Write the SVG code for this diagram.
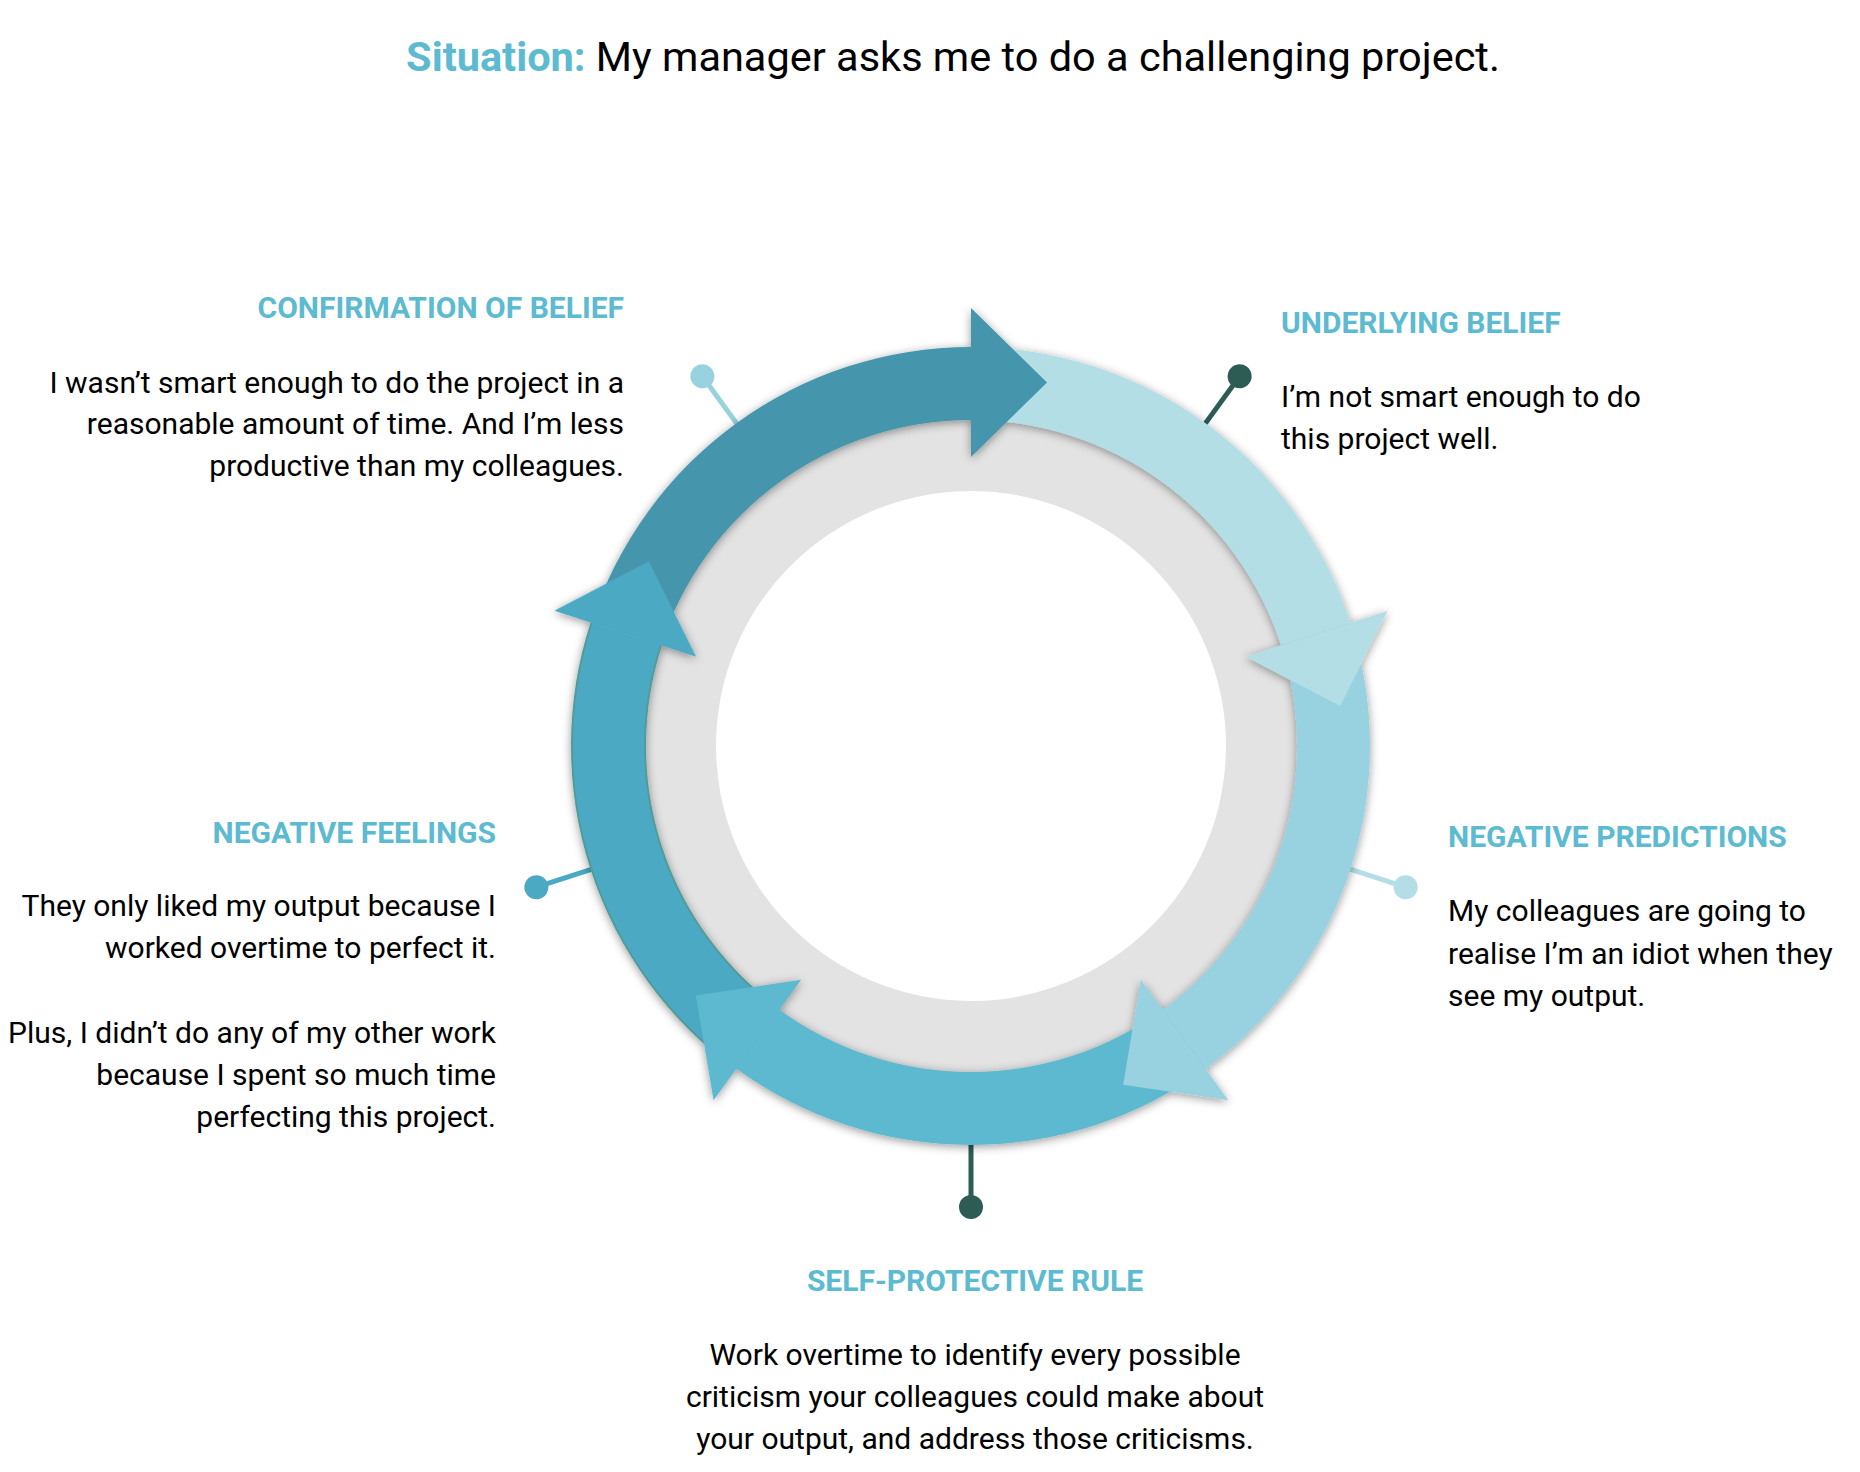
<svg xmlns="http://www.w3.org/2000/svg" xmlns:xlink="http://www.w3.org/1999/xlink" width="1860" height="1472" viewBox="0 0 1860 1472">
<style>
.hd{font-family:Roboto,"Liberation Sans",sans-serif;font-weight:700;font-size:30px;fill:#5CBAD1}
.bd{font-family:Roboto,"Liberation Sans",sans-serif;font-weight:400;font-size:30px;fill:#000}
.r{text-anchor:end}
.c{text-anchor:middle}
.pin line{stroke-width:5}
</style>
<defs>
<path id="band" d="M591.53,622.7 A399,399 0 0 1 971,347 L971,420 A326,326 0 0 0 660.95,645.26 Z"/>
<path id="head" d="M971,308 L1047,382.5 L971,457 Z"/>
<filter id="sh" x="-20%" y="-20%" width="140%" height="140%">
<feDropShadow dx="0" dy="2" stdDeviation="5" flood-color="#000" flood-opacity="0.4"/>
</filter>
</defs>
<rect width="1860" height="1472" fill="#fff"/>
<text x="953" y="71" class="bd c" style="font-size:41.5px"><tspan style="font-weight:700;fill:#5CBAD1">Situation:</tspan> My manager asks me to do a challenging project.</text>

<circle cx="971" cy="746" r="345" fill="#E3E3E3"/>
<circle cx="971" cy="746" r="255" fill="#fff"/>

<g id="node-underlying-belief">
<g class="pin" transform="rotate(36 971 746)"><line x1="971" y1="350" x2="971" y2="289" stroke="#2D5C55"/><circle cx="971" cy="289" r="12" fill="#2D5C55"/></g>
<text x="1281" y="333" class="hd">UNDERLYING BELIEF</text>
<text x="1281" y="407" class="bd">I’m not smart enough to do</text>
<text x="1281" y="449" class="bd">this project well.</text>
</g>
<g id="node-negative-predictions">
<g class="pin" transform="rotate(108 971 746)"><line x1="971" y1="350" x2="971" y2="289" stroke="#B3DEE5"/><circle cx="971" cy="289" r="12" fill="#B3DEE5"/></g>
<text x="1448" y="847" class="hd">NEGATIVE PREDICTIONS</text>
<text x="1448" y="921" class="bd">My colleagues are going to</text>
<text x="1448" y="964" class="bd">realise I’m an idiot when they</text>
<text x="1448" y="1006" class="bd">see my output.</text>
</g>
<g id="node-self-protective-rule">
<g class="pin" transform="rotate(180 971 746)"><line x1="971" y1="350" x2="971" y2="285" stroke="#2D5C55"/><circle cx="971" cy="285" r="12" fill="#2D5C55"/></g>
<text x="975" y="1291" class="hd c">SELF-PROTECTIVE RULE</text>
<text x="975" y="1365" class="bd c">Work overtime to identify every possible</text>
<text x="975" y="1407" class="bd c">criticism your colleagues could make about</text>
<text x="975" y="1449" class="bd c">your output, and address those criticisms.</text>
</g>
<g id="node-negative-feelings">
<g class="pin" transform="rotate(252 971 746)"><line x1="971" y1="350" x2="971" y2="289" stroke="#4CA9C3"/><circle cx="971" cy="289" r="12" fill="#4CA9C3"/></g>
<text x="496" y="843" class="hd r">NEGATIVE FEELINGS</text>
<text x="496" y="916" class="bd r">They only liked my output because I</text>
<text x="496" y="958" class="bd r">worked overtime to perfect it.</text>
<text x="496" y="1043" class="bd r">Plus, I didn’t do any of my other work</text>
<text x="496" y="1085" class="bd r">because I spent so much time</text>
<text x="496" y="1127" class="bd r">perfecting this project.</text>
</g>
<g id="node-confirmation-of-belief">
<g class="pin" transform="rotate(324 971 746)"><line x1="971" y1="350" x2="971" y2="289" stroke="#98D2E0"/><circle cx="971" cy="289" r="12" fill="#98D2E0"/></g>
<text x="624" y="318" class="hd r">CONFIRMATION OF BELIEF</text>
<text x="624" y="393" class="bd r">I wasn’t smart enough to do the project in a</text>
<text x="624" y="434" class="bd r">reasonable amount of time. And I’m less</text>
<text x="624" y="476" class="bd r">productive than my colleagues.</text>
</g>

<g id="connectors" filter="url(#sh)">
<use xlink:href="#band" fill="#4496AD"/>
<use xlink:href="#band" fill="#B3DEE5" transform="rotate(72 971 746)"/>
<use xlink:href="#band" fill="#98D2E0" transform="rotate(144 971 746)"/>
<use xlink:href="#band" fill="#5DB9CF" transform="rotate(216 971 746)"/>
<use xlink:href="#band" fill="#4CA9C3" transform="rotate(288 971 746)"/>
<path d="M591.53,622.7 A399,399 0 0 1 971,347 M660.95,645.26 A326,326 0 0 1 971,420" fill="none" stroke="#4F9C98" stroke-width="2" transform="rotate(288 971 746)"/>
<use xlink:href="#head" fill="#4496AD"/>
<use xlink:href="#head" fill="#B3DEE5" transform="rotate(72 971 746)"/>
<use xlink:href="#head" fill="#98D2E0" transform="rotate(144 971 746)"/>
<use xlink:href="#head" fill="#5DB9CF" transform="rotate(216 971 746)"/>
<use xlink:href="#head" fill="#4CA9C3" transform="rotate(288 971 746)"/>
</g>
</svg>
